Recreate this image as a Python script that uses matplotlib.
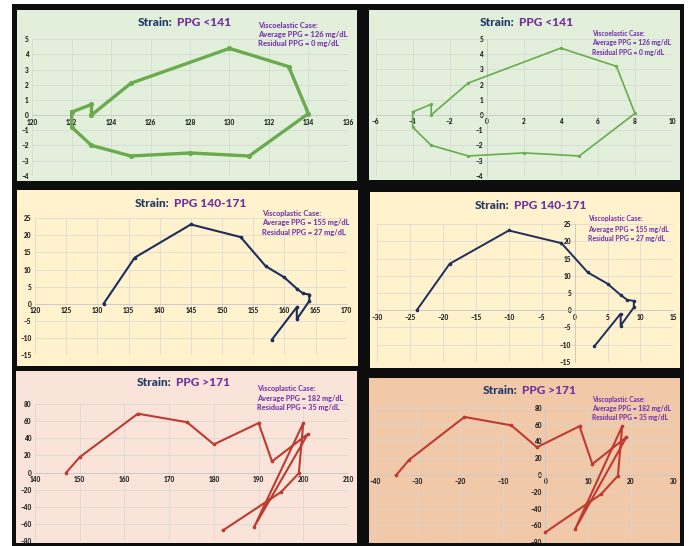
import matplotlib
matplotlib.use("Agg")
import matplotlib.pyplot as plt
from matplotlib.patches import Rectangle

W, H = 689, 546

# ---- data ----
low_ppg = [122, 123, 123, 125, 130, 133, 134, 131, 128, 125, 123, 122, 122]
low_strain = [0.2, 0.7, 0.0, 2.1, 4.4, 3.2, 0.1, -2.7, -2.5, -2.7, -2.0, -0.8, 0.2]
low_resid = [-4, -3, -3, -1, 4, 7, 8, 5, 2, -1, -3, -4, -4]

mid_ppg = [131, 136, 145, 153, 157, 160, 162, 163, 164, 164, 162, 162, 158]
mid_strain = [0, 13.5, 23.2, 19.5, 11, 7.7, 4.4, 3.0, 2.7, 0.8, -4.5, -1.0, -10.5]
mid_resid = [-24, -19, -10, -2, 2, 5, 7, 8, 9, 9, 7, 7, 3]

high_ppg = [147, 150, 163, 174, 180, 190, 193, 201, 189, 200, 199, 195, 182]
high_strain = [0, 18, 69, 59, 33, 58, 13, 45, -64, 58, -1, -23, -68]
high_resid = [-35, -32, -19, -8, -2, 8, 11, 19, 7, 18, 17, 13, 0]

case_text = [
    ["Viscoelastic Case:", "Average PPG = 126 mg/dL", "Residual PPG = 0 mg/dL"],
    ["Viscoplastic Case:", "Average PPG = 155 mg/dL", "Residual PPG = 27 mg/dL"],
    ["Viscoplastic Case:", "Average PPG = 182 mg/dL", "Residual PPG = 35 mg/dL"],
]
titles = ["PPG <141", "PPG 140-171", "PPG >171"]

NAVY = "#1f3864"
PURPLE = "#7030a0"
FONT = "Lato"

# panel box, plot area (x0, x1, ytop, ybottom in px), limits, ticks, line style
panels = [
    dict(box=(17, 10, 357, 181), bg="#e2efda", area=(32.3, 347.8, 39.3, 175.7),
         x=low_ppg, y=low_strain, xlim=(120, 136), xstep=2, ylim=(-4, 5), ystep=1,
         color="#6aab4f", lw=2.4, yaxis_at_zero=False, row=0,
         title=(174, 22.7), note=(258, [26, 35, 43.5]), note_size=5.4),
    dict(box=(369, 10, 680, 180), bg="#e2efda", area=(375.6, 672, 39, 175.7),
         x=low_resid, y=low_strain, xlim=(-6, 10), xstep=2, ylim=(-4, 5), ystep=1,
         color="#6aab4f", lw=1.2, yaxis_at_zero=True, row=0,
         title=(516, 22.7), note=(592, [33.3, 43, 52.3]), note_size=4.8),
    dict(box=(17, 190, 358, 366), bg="#fff2cc", area=(35, 346.7, 218.3, 355),
         x=mid_ppg, y=mid_strain, xlim=(120, 170), xstep=5, ylim=(-15, 25), ystep=5,
         color="#1f2d5c", lw=1.5, yaxis_at_zero=False, row=1,
         title=(171.5, 203.3), note=(262, [213.3, 223, 232]), note_size=5.3),
    dict(box=(370, 192, 680, 368), bg="#fff2cc", area=(377.3, 673.3, 224.3, 361.7),
         x=mid_resid, y=mid_strain, xlim=(-30, 15), xstep=5, ylim=(-15, 25), ystep=5,
         color="#1f2d5c", lw=1.4, yaxis_at_zero=True, row=1,
         title=(511.5, 205.7), note=(588.3, [219, 229, 238]), note_size=4.9),
    dict(box=(16, 371, 357, 543), bg="#fae4da", area=(35, 348, 404.3, 540.7),
         x=high_ppg, y=high_strain, xlim=(140, 210), xstep=10, ylim=(-80, 80), ystep=20,
         color="#bf3a30", lw=1.5, yaxis_at_zero=False, row=2,
         title=(173, 382.3), note=(257.3, [388.3, 398.3, 407.3]), note_size=5.2),
    dict(box=(369, 378, 680, 543), bg="#f2c9a8", area=(375, 673.3, 407.7, 542.3),
         x=high_resid, y=high_strain, xlim=(-40, 30), xstep=10, ylim=(-80, 80), ystep=20,
         color="#bf3a30", lw=1.5, yaxis_at_zero=True, row=2,
         title=(519, 390), note=(591.7, [399.3, 408.3, 417.3]), note_size=4.8),
]

fig = plt.figure(figsize=(W / 100, H / 100), dpi=100)
fig.patch.set_facecolor("white")


def fx(px):
    return px / W


def fy(py):
    return 1 - py / H


# black backdrop behind the panels
fig.patches.append(Rectangle((fx(12), fy(546)), fx(684) - fx(12), fy(4) - fy(546),
                             transform=fig.transFigure, facecolor="#0d0d0d",
                             edgecolor="none", zorder=0))

for p in panels:
    bx0, by0, bx1, by1 = p["box"]
    fig.patches.append(Rectangle((fx(bx0), fy(by1)), fx(bx1) - fx(bx0), fy(by0) - fy(by1),
                                 transform=fig.transFigure, facecolor=p["bg"],
                                 edgecolor="none", zorder=1))

    x0, x1, yt, yb = p["area"]
    ax = fig.add_axes([fx(x0), fy(yb), fx(x1) - fx(x0), fy(yt) - fy(yb)])
    ax.set_facecolor("none")
    ax.set_zorder(2)

    ax.plot(p["x"], p["y"], color=p["color"], lw=p["lw"], marker="o",
            markersize=p["lw"] * 1.1, solid_joinstyle="miter", zorder=3)

    xt = list(range(p["xlim"][0], p["xlim"][1] + 1, p["xstep"]))
    yt_ = list(range(p["ylim"][0], p["ylim"][1] + 1, p["ystep"]))
    ax.set_xlim(*p["xlim"])
    ax.set_ylim(*p["ylim"])
    ax.set_xticks(xt)
    ax.set_yticks(yt_)
    ax.grid(True, color="#d6d6d6", lw=0.5, zorder=0)
    ax.set_axisbelow(True)

    for s in ["top", "right"]:
        ax.spines[s].set_visible(False)
    ax.spines["bottom"].set_position(("data", 0))
    ax.spines["bottom"].set_color("#c8c8c8")
    ax.spines["bottom"].set_linewidth(0.6)
    if p["yaxis_at_zero"]:
        ax.spines["left"].set_position(("data", 0))
        ax.spines["left"].set_color("#c8c8c8")
        ax.spines["left"].set_linewidth(0.6)
    else:
        ax.spines["left"].set_visible(False)

    ax.tick_params(axis="both", length=0, labelsize=4.7, labelcolor="#1a1a1a", pad=2.5)
    for lab in ax.get_xticklabels() + ax.get_yticklabels():
        lab.set_fontfamily(FONT)
        lab.set_fontweight("black")

    # two-colour title
    tx, ty = p["title"]
    fig.text(fx(tx - 2), fy(ty), "Strain:", ha="right", va="center", fontsize=8.6,
             fontweight="black", color=NAVY, family=FONT, zorder=5)
    fig.text(fx(tx + 3), fy(ty), titles[p["row"]], ha="left", va="center", fontsize=8.6,
             fontweight="black", color=PURPLE, family=FONT, zorder=5)

    nx, nys = p["note"]
    for line, ny in zip(case_text[p["row"]], nys):
        fig.text(fx(nx), fy(ny), line, ha="left", va="center", fontsize=p["note_size"],
                 fontweight="black", color="#7636ad", family=FONT, zorder=5)

fig.savefig("out.png", dpi=100, facecolor=fig.get_facecolor())
